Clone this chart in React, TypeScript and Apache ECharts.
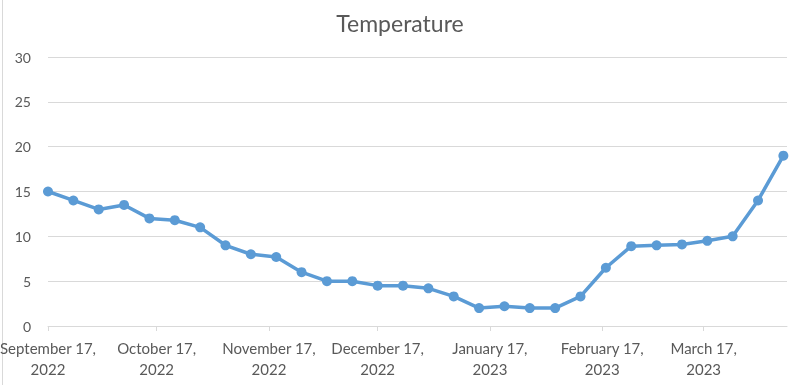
import React, { useEffect, useRef } from "react";
import * as echarts from "echarts";

const dates = [
  "2022-09-17", "2022-09-24", "2022-10-01", "2022-10-08", "2022-10-15", "2022-10-22",
  "2022-10-29", "2022-11-05", "2022-11-12", "2022-11-19", "2022-11-26", "2022-12-03",
  "2022-12-10", "2022-12-17", "2022-12-24", "2022-12-31", "2023-01-07", "2023-01-14",
  "2023-01-21", "2023-01-28", "2023-02-04", "2023-02-11", "2023-02-18", "2023-02-25",
  "2023-03-04", "2023-03-11", "2023-03-18", "2023-03-25", "2023-04-01", "2023-04-08",
];
const temperature = [
  15, 14, 13, 13.5, 12, 11.8, 11, 9, 8, 7.7, 6, 5, 5, 4.5, 4.5, 4.2, 3.3, 2, 2.2, 2,
  2, 3.3, 6.5, 8.9, 9, 9.1, 9.5, 10, 14, 19,
];
const tickDates = [
  "2022-09-17", "2022-10-17", "2022-11-17", "2022-12-17", "2023-01-17", "2023-02-17", "2023-03-17",
];
const axisStart = "2022-09-17";
const axisEnd = "2023-04-09";
const monthNames = [
  "January", "February", "March", "April", "May", "June", "July", "August",
  "September", "October", "November", "December",
];

const toDay = (s: string) => {
  const [y, m, d] = s.split("-").map(Number);
  return Math.round(Date.UTC(y, m - 1, d) / 86400000);
};

export default function App() {
  const ref = useRef<HTMLDivElement>(null);
  useEffect(() => {
    if (!ref.current) return;
    const chart = echarts.init(ref.current, undefined, { renderer: "svg" });
    const font = "Lato, 'Open Sans', sans-serif";
    const ticks = tickDates.map(toDay);
    chart.setOption({
      animation: false,
      title: {
        text: "Temperature",
        left: "center",
        top: 6,
        textStyle: { color: "#595959", fontSize: 23, fontWeight: "normal", fontFamily: font },
      },
      graphic: [
        {
          type: "line",
          shape: { x1: 2.5, y1: 0, x2: 2.5, y2: 385 },
          style: { stroke: "#d9d9d9", lineWidth: 1 },
        },
      ],
      grid: {
        left: 48,
        right: 13,
        top: 57,
        bottom: 59,
        containLabel: false,
        outerBoundsMode: "none",
      },
      xAxis: {
        type: "value",
        min: toDay(axisStart),
        max: toDay(axisEnd),
        axisLine: { show: true, lineStyle: { color: "#d9d9d9", width: 1 } },
        axisTick: {
          show: true,
          inside: false,
          length: 5,
          customValues: ticks,
          lineStyle: { color: "#d9d9d9" },
        },
        splitLine: { show: false },
        axisLabel: {
          customValues: ticks,
          color: "#595959",
          fontSize: 15,
          fontFamily: font,
          lineHeight: 21,
          margin: 11,
          formatter: (v: number) => {
            const d = new Date(v * 86400000);
            return `${monthNames[d.getUTCMonth()]} ${d.getUTCDate()},\n${d.getUTCFullYear()}`;
          },
        },
      },
      yAxis: {
        type: "value",
        min: 0,
        max: 30,
        interval: 5,
        axisLine: { show: false },
        axisTick: { show: false },
        splitLine: { lineStyle: { color: "#d9d9d9", width: 1 } },
        axisLabel: { color: "#595959", fontSize: 14, fontFamily: font, margin: 17 },
      },
      series: [
        {
          type: "line",
          data: dates.map((d, i) => [toDay(d), temperature[i]]),
          lineStyle: { color: "#5b9bd5", width: 3.5 },
          itemStyle: { color: "#5b9bd5" },
          symbol: "circle",
          symbolSize: 10,
          showSymbol: true,
        },
      ],
    });
    return () => chart.dispose();
  }, []);
  return <div ref={ref} style={{ width: 800, height: 385, position: "fixed", left: 0, top: 0 }} />;
}
